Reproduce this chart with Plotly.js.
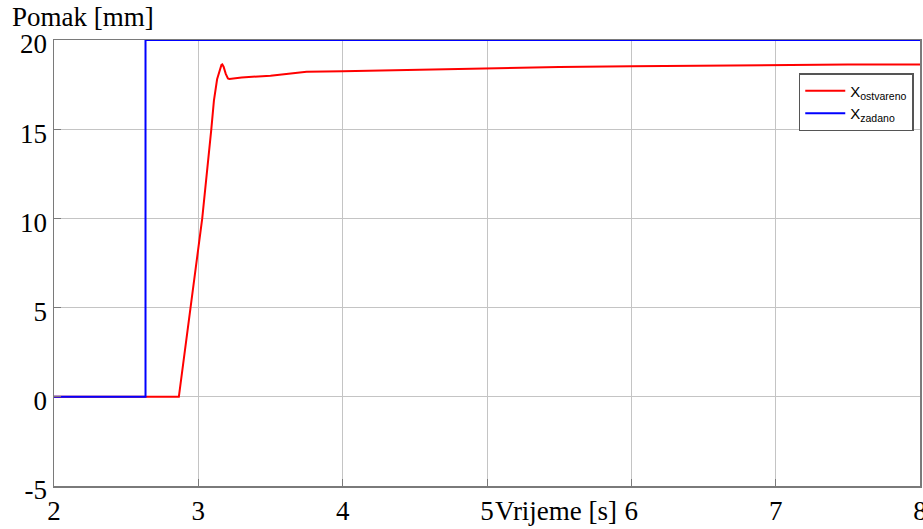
<!DOCTYPE html>
<html>
<head>
<meta charset="utf-8">
<script src="https://cdn.plot.ly/plotly-3.0.1.min.js"></script>
<style>html,body{margin:0;padding:0;background:#fff}#chart{width:923px;height:529px}</style>
</head>
<body>
<div id="chart"></div>
<script>
// Data
var timeZadano = [2, 2.634, 2.634, 8];
var xZadano    = [0, 0, 20, 20];

var timeOstvareno = [2, 2.634, 2.865, 2.946, 3.027, 3.09, 3.108, 3.13, 3.148, 3.16, 3.166, 3.175, 3.19, 3.205, 3.215, 3.24, 3.3, 3.5, 3.7, 3.75, 4, 4.5, 5, 5.5, 6, 6.5, 7, 7.5, 8];
var xOstvareno    = [0, 0, 0, 5, 10, 15, 16.6, 17.8, 18.35, 18.6, 18.63, 18.5, 18.1, 17.85, 17.82, 17.85, 17.9, 18.0, 18.15, 18.22, 18.25, 18.33, 18.43, 18.48, 18.53, 18.57, 18.6, 18.62, 18.63];

var xTicks = [2, 3, 4, 5, 6, 7, 8];
var yTicks = [-5, 0, 5, 10, 15, 20];

var serif = "Times New Roman, Liberation Serif, Tinos, DejaVu Serif, serif";

var traces = [
  {x: timeOstvareno, y: xOstvareno, mode: 'lines', name: 'X<sub>ostvareno</sub>',
   line: {color: '#ff0000', width: 2}},
  {x: timeZadano, y: xZadano, mode: 'lines', name: 'X<sub>zadano</sub>',
   line: {color: '#0000ff', width: 2}}
];

var axisCommon = {
  showgrid: true, gridcolor: '#c4c4c4', gridwidth: 1,
  showline: true, linecolor: '#7a7a7a', linewidth: 1.5, mirror: true,
  ticks: 'inside', ticklen: 7, tickcolor: '#7a7a7a',
  zeroline: false, ticklabeloverflow: 'allow',
  tickfont: {family: serif, size: 27, color: '#000'}
};

var layout = {
  width: 923, height: 529,
  margin: {l: 54, r: 3, t: 40, b: 43},
  paper_bgcolor: '#fff', plot_bgcolor: '#fff',
  showlegend: true,
  xaxis: Object.assign({}, axisCommon, {range: [2, 8], tickvals: xTicks, ticktext: xTicks.map(String)}),
  yaxis: Object.assign({}, axisCommon, {range: [-5, 20], tickvals: yTicks, ticktext: yTicks.map(String), ticklabelshift: 4}),
  legend: {
    x: 0.86, y: 0.926, xanchor: 'left', yanchor: 'top',
    bgcolor: '#fff', bordercolor: '#555', borderwidth: 1.5, itemwidth: 40,
    font: {family: "Liberation Sans, Arial, sans-serif", size: 15, color: '#000'}
  },
  annotations: [
    {text: 'Pomak [mm]', xref: 'paper', yref: 'paper', x: 0, y: 1, xanchor: 'left', yanchor: 'bottom',
     xshift: -44, yshift: 6, showarrow: false, font: {family: serif, size: 27, color: '#000'}},
    {text: 'Vrijeme [s]', xref: 'paper', yref: 'paper', x: 0.58, y: 0, xanchor: 'center', yanchor: 'top',
     yshift: -8, showarrow: false, font: {family: serif, size: 27, color: '#000'}}
  ]
};

Plotly.newPlot('chart', traces, layout, {displayModeBar: false, staticPlot: true});
</script>
</body>
</html>
